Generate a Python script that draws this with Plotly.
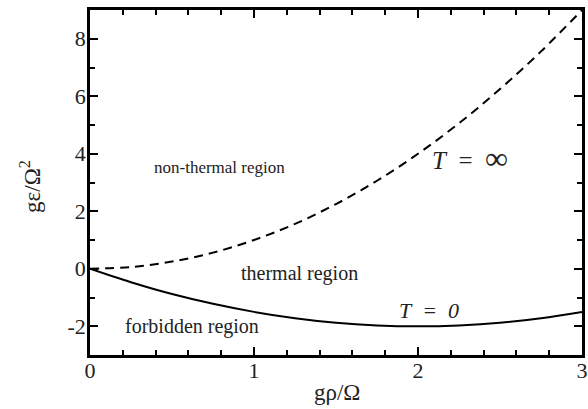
import plotly.graph_objects as go

# coupling g*rho/Omega
rho = [0.0, 0.25, 0.5, 0.75, 1.0, 1.25, 1.5, 1.75, 2.0, 2.25, 2.5, 2.75, 3.0]
# boundary at infinite temperature
eps_inf = [0.0, 0.06, 0.25, 0.56, 1.0, 1.56, 2.25, 3.06, 4.0, 5.06, 6.25, 7.56, 9.0]
# boundary at zero temperature
eps_zero = [0.0, -0.47, -0.88, -1.22, -1.5, -1.72, -1.88, -1.97, -2.0, -1.97, -1.88, -1.72, -1.5]

x_ticks = [0, 1, 2, 3]
y_ticks = [-2, 0, 2, 4, 6, 8]

FONT = "Times New Roman"
INK = "#222"

fig = go.Figure()
fig.add_trace(go.Scatter(x=rho, y=eps_inf, mode="lines", line_shape="spline",
                         line=dict(color="black", width=2, dash="9px,6px")))
fig.add_trace(go.Scatter(x=rho, y=eps_zero, mode="lines", line_shape="spline",
                         line=dict(color="black", width=2)))

axis_common = dict(
    showline=True, linecolor="black", linewidth=2.5, mirror="allticks",
    ticks="inside", ticklen=8, tickwidth=1.5, tickcolor="black",
    showgrid=False, zeroline=False, automargin=False,
    tickfont=dict(family=FONT, size=22, color=INK),
)

fig.update_xaxes(range=[0, 3], tickvals=x_ticks, ticklabelstandoff=-6,
                 minor=dict(dtick=0.2, ticks="inside", ticklen=5, tickwidth=1.5, tickcolor="black"),
                 **axis_common)
fig.update_yaxes(range=[-3, 9], tickvals=y_ticks, ticktext=[str(v) for v in y_ticks],
                 ticklabelstandoff=-3,
                 minor=dict(dtick=1, ticks="inside", ticklen=5, tickwidth=1.5, tickcolor="black"),
                 **axis_common)

labels = [
    (0.79, 3.53, "non-thermal region", 17),
    (1.28, -0.17, "thermal region", 20),
    (0.62, -2.0, "forbidden region", 20),
    (2.32, 3.84, "<i>T</i>\u2002=\u2002<span style='font-size:32px'>∞</span>", 25),
    (2.07, -1.45, "<i>T\u2002=\u20020</i>", 22),
]
for x, y, txt, size in labels:
    fig.add_annotation(x=x, y=y, text=txt, showarrow=False,
                       font=dict(family=FONT, size=size, color=INK))

fig.add_annotation(x=0.502, y=-0.11, xref="paper", yref="paper", text="gρ/Ω",
                   xanchor="center", yanchor="middle",
                   showarrow=False, font=dict(family=FONT, size=23, color=INK))
fig.add_annotation(x=-0.12, y=0.49, xref="paper", yref="paper", text="gε/Ω<sup>2</sup>",
                   xanchor="center", yanchor="middle",
                   textangle=-90, showarrow=False, font=dict(family=FONT, size=23, color=INK))

fig.update_layout(
    width=588, height=409,
    margin=dict(l=90, r=6, t=10, b=54),
    paper_bgcolor="white", plot_bgcolor="white",
    showlegend=False,
    font=dict(family=FONT),
)

fig.write_html("out.html")
